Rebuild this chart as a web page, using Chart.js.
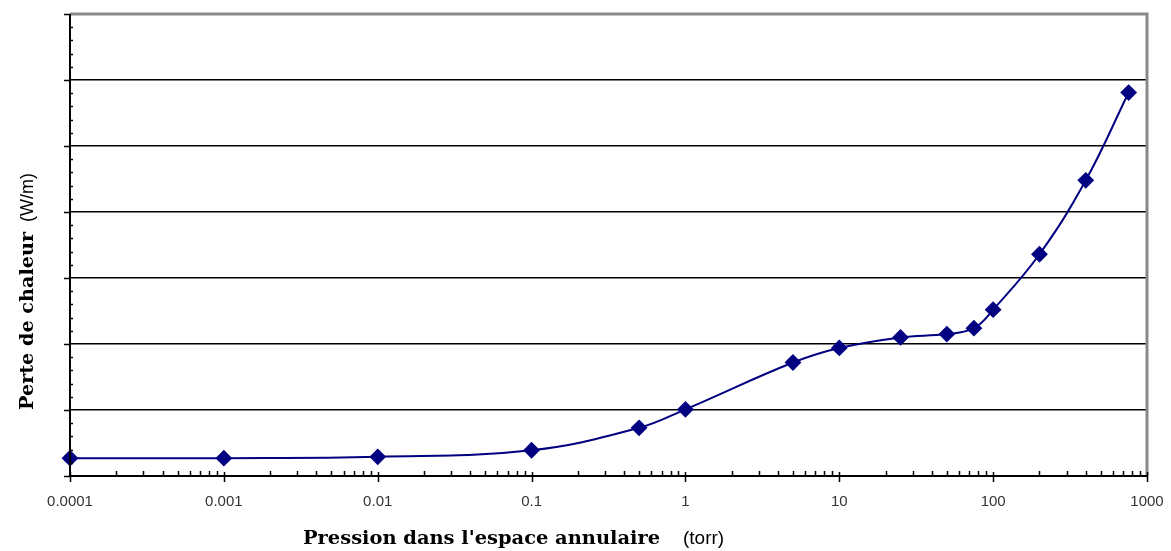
<!DOCTYPE html>
<html>
<head>
<meta charset="utf-8">
<script src="https://cdn.jsdelivr.net/npm/chart.js@4/dist/chart.umd.min.js"></script>
<style>
  html, body { margin: 0; padding: 0; background: #fff; }
  #wrap { width: 1171px; height: 551px; }
</style>
</head>
<body>
<div id="wrap"><canvas id="lossChart"></canvas></div>
<script>
// Pression (torr) and heat loss (arbitrary units, y axis unlabelled)
const pressures = [0.0001, 0.001, 0.01, 0.1, 0.5, 1, 5, 10, 25, 50, 75, 100, 200, 400, 760];
const heatLoss = [0.27, 0.27, 0.29, 0.39, 0.73, 1.01, 1.72, 1.94, 2.10, 2.15, 2.24, 2.52, 3.36, 4.48, 5.81];
const xTicks = [0.0001, 0.001, 0.01, 0.1, 1, 10, 100, 1000];
const yGrid = [1, 2, 3, 4, 5, 6];

// bold serif title squeezed/stretched to a given width
function serifTitle(ctx, text, x, y, width) {
  ctx.font = 'bold 18px "DejaVu Serif"';
  const sx = width / ctx.measureText(text).width;
  ctx.save();
  ctx.translate(x, y);
  ctx.scale(sx, 1);
  ctx.fillText(text, 0, 0);
  ctx.restore();
}

// axes, ticks, frame and titles drawn like the old Excel chart
const excelFrame = {
  id: 'excelFrame',
  afterDraw(chart) {
    const { ctx, chartArea: a, scales: { x, y } } = chart;
    ctx.save();

    // gray top and right border
    ctx.strokeStyle = '#8a8a8a';
    ctx.lineWidth = 3;
    ctx.beginPath();
    ctx.moveTo(a.left, a.top);
    ctx.lineTo(a.right, a.top);
    ctx.lineTo(a.right, a.bottom);
    ctx.stroke();

    // black axis lines
    ctx.strokeStyle = '#000';
    ctx.lineWidth = 2;
    ctx.beginPath();
    ctx.moveTo(a.left, a.top);
    ctx.lineTo(a.left, a.bottom);
    ctx.lineTo(a.right, a.bottom);
    ctx.stroke();

    // y ticks: major every 1 (outside), minor every 0.2 (inside)
    ctx.lineWidth = 1.5;
    ctx.beginPath();
    for (let i = 0; i <= 35; i++) {
      const py = Math.round(y.getPixelForValue(i / 5)) + 0.5;
      if (i % 5 === 0) {
        ctx.moveTo(a.left - 6, py);
        ctx.lineTo(a.left, py);
      } else {
        ctx.moveTo(a.left, py);
        ctx.lineTo(a.left + 3, py);
      }
    }
    // x ticks: major at decades (crossing), minor 2..9 (inside)
    xTicks.forEach((v, k) => {
      const px = Math.round(x.getPixelForValue(v)) + 0.5;
      ctx.moveTo(px, a.bottom - 4);
      ctx.lineTo(px, a.bottom + 6);
      if (k < xTicks.length - 1) {
        for (let m = 2; m <= 9; m++) {
          const mx = Math.round(x.getPixelForValue(v * m)) + 0.5;
          ctx.moveTo(mx, a.bottom - 5);
          ctx.lineTo(mx, a.bottom);
        }
      }
    });
    ctx.stroke();

    // x axis title
    ctx.fillStyle = '#000';
    ctx.textBaseline = 'alphabetic';
    ctx.textAlign = 'left';
    serifTitle(ctx, "Pression dans l'espace annulaire", 303, 544, 357);
    ctx.font = '19px "Liberation Sans"';
    ctx.fillText('(torr)', 683, 544);

    // y axis title, rotated
    ctx.translate(33, 410);
    ctx.rotate(-Math.PI / 2);
    serifTitle(ctx, 'Perte de chaleur', 0, 0, 178);
    ctx.font = '18px "Liberation Sans"';
    ctx.fillText('(W/m)', 188, 0);

    ctx.restore();
  }
};

new Chart(document.getElementById('lossChart'), {
  type: 'scatter',
  data: {
    datasets: [{
      data: pressures.map((p, i) => ({ x: p, y: heatLoss[i] })),
      showLine: true,
      borderColor: '#000080',
      borderWidth: 2,
      backgroundColor: '#000080',
      pointStyle: 'rectRot',
      pointRadius: 7,
      pointHoverRadius: 7,
      tension: 0.4,
      clip: false
    }]
  },
  options: {
    responsive: true,
    maintainAspectRatio: false,
    animation: false,
    layout: { padding: { top: 14, right: 24, left: 0, bottom: 0 } },
    plugins: { legend: { display: false }, tooltip: { enabled: false } },
    scales: {
      x: {
        type: 'logarithmic',
        min: 0.0001,
        max: 1000,
        afterBuildTicks: scale => { scale.ticks = xTicks.map(v => ({ value: v })); },
        afterFit: scale => {
          scale.height = 75;
          scale.paddingLeft = 0;
          scale.paddingRight = 0;
        },
        grid: { display: false, drawTicks: false },
        border: { display: false },
        ticks: {
          autoSkip: false,
          maxRotation: 0,
          padding: 17,
          color: '#333',
          font: { family: 'Liberation Sans', size: 15 },
          callback: v => String(v)
        }
      },
      y: {
        min: 0,
        max: 7,
        afterBuildTicks: scale => { scale.ticks = yGrid.map(v => ({ value: v })); },
        afterFit: scale => { scale.width = 70; },
        ticks: { display: false },
        border: { display: false },
        grid: { color: '#000', lineWidth: 1.5, drawTicks: false }
      }
    }
  },
  plugins: [excelFrame]
});
</script>
</body>
</html>
